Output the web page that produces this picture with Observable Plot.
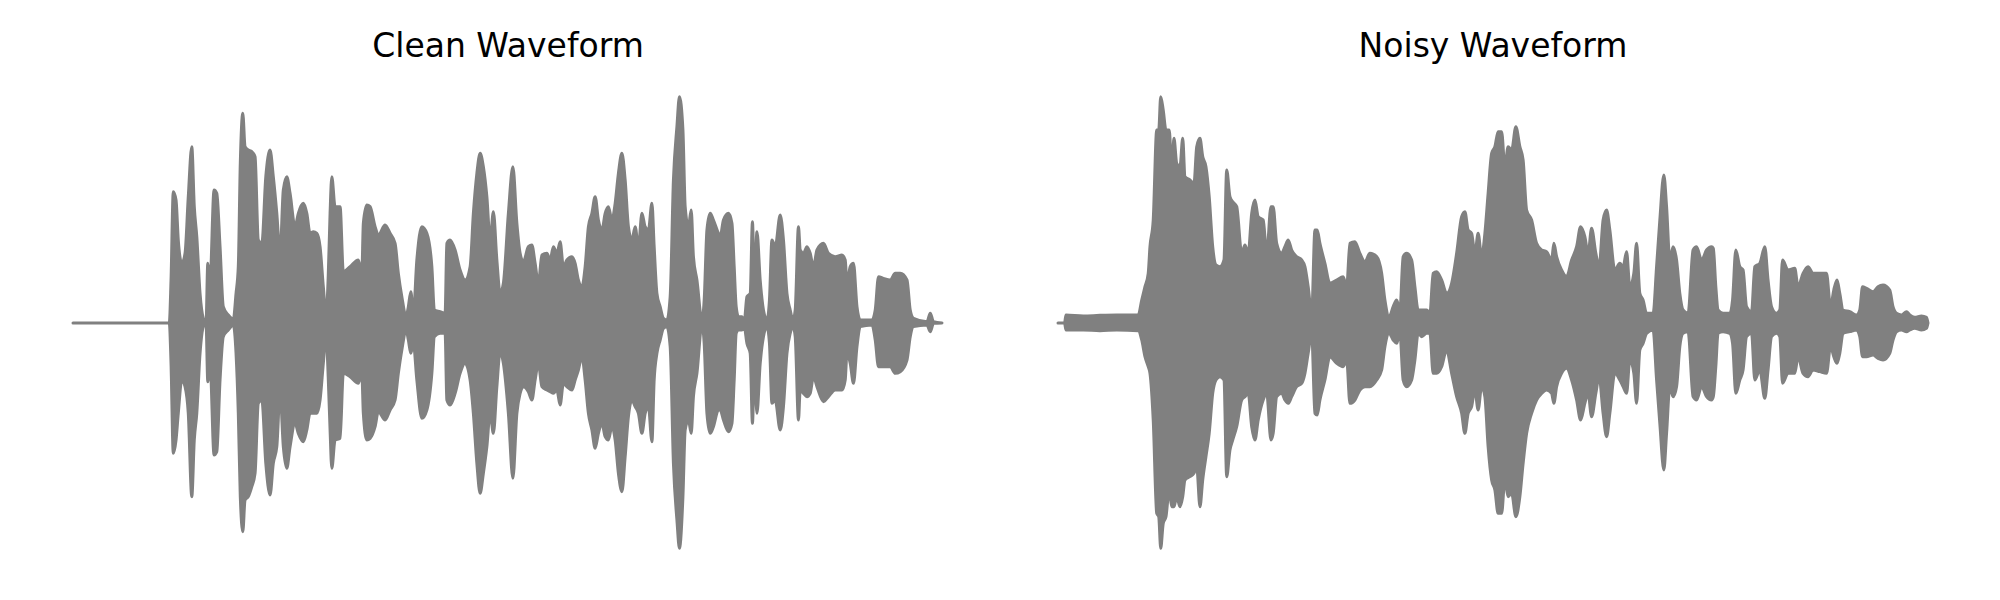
<!DOCTYPE html>
<html><head><meta charset="utf-8">
<script src="https://cdn.jsdelivr.net/npm/d3@7"></script>
<script src="https://cdn.jsdelivr.net/npm/@observablehq/plot@0.6"></script>
<style>
body{margin:0;background:#fff;width:2000px;height:600px;position:relative;overflow:hidden;font-family:"DejaVu Sans",sans-serif;}
.panel{position:absolute;top:0;width:1000px;height:600px;}
.title{position:absolute;top:29px;width:870px;font-size:33px;line-height:33px;color:#000;text-align:center;white-space:nowrap;}
.chart{position:absolute;top:70px;left:0;}
</style></head><body>
<div id="p0" class="panel" style="left:0"></div>
<div id="p1" class="panel" style="left:1000px"></div>
<script>
const titles = ["Clean Waveform", "Noisy Waveform"];

// time in ms, amplitude in int16 sample units (envelope max / min)
const cleanT = [0,385,392,401,412,421,435,448,461,475,485,495,508,521,532,539,548,564,575,588,601,621,641,652,661,669,679,688,701,715,728,741,755,771,788,801,815,828,841,855,868,888,901,921,935,948,961,975,988,1001,1012,1021,1028,1035,1048,1068,1081,1108,1141,1155,1161,1175,1188,1208,1221,1248,1268,1288,1301,1315,1332,1341,1351,1361,1375,1395,1415,1435,1445,1468,1488,1495,1508,1528,1548,1568,1588,1601,1615,1628,1641,1655,1668,1681,1695,1708,1721,1741,1759,1775,1788,1801,1821,1835,1848,1861,1875,1895,1908,1921,1935,1948,1961,1975,1995,2008,2021,2035,2048,2061,2075,2088,2101,2115,2128,2141,2155,2168,2181,2195,2208,2221,2235,2248,2261,2275,2288,2301,2315,2324,2335,2348,2361,2375,2388,2401,2415,2425,2439,2448,2461,2472,2481,2495,2515,2524,2535,2548,2561,2581,2588,2601,2621,2635,2644,2652,2661,2675,2684,2695,2708,2717,2725,2735,2748,2761,2775,2785,2795,2808,2828,2841,2855,2868,2879,2888,2901,2908,2921,2935,2948,2961,2975,3001,3021,3048,3075,3088,3095,3108,3121,3135,3148,3195,3208,3221,3241,3268,3288,3308,3335,3348,3361,3415,3428,3441,3475];
const cleanHi = [0,0,5160,15760,14760,9960,7160,8360,15160,21160,13960,10360,3560,560,0,7160,5160,15960,15560,9160,1960,960,440,3560,6760,19160,25160,21160,20760,20560,19960,9960,9560,17560,20760,17560,13160,8360,15960,17560,15560,11560,13160,14360,13160,10760,10960,10760,9160,4360,960,5960,13160,17560,13960,13960,6160,6760,7560,5960,11960,14160,13960,11560,10560,11760,10760,9560,5960,3160,760,1960,3760,1160,7560,11560,10760,6760,1560,1360,1160,9560,9960,8760,6360,5160,6760,13160,17960,20360,18760,15160,9960,13360,7560,3560,4760,13160,18760,11960,8360,7360,9160,9360,7160,4760,8160,8360,7560,9160,8360,9760,6760,7560,7960,7160,5160,4360,6760,11560,13160,15160,12360,11160,13160,13960,12360,14360,17960,20360,17160,11560,9960,11560,9160,13160,11560,11160,14360,9160,3560,1960,560,360,3160,17160,23560,27160,23160,13960,11560,13560,7960,5160,360,2760,11160,13160,12360,10760,10360,12360,13160,11960,6760,1960,760,760,160,3160,3560,12160,4360,10960,5160,1560,360,2760,9960,9160,12960,9960,3560,1560,360,1560,11560,8760,8360,9160,8360,6760,8760,9560,8360,7960,8160,7560,4760,6760,7160,1960,360,360,1560,5560,5360,5160,5960,5960,5160,1560,560,160,1160,160,0];
const cleanLo = [0,0,-4840,-15640,-14040,-10840,-6840,-7640,-10840,-20840,-14040,-10840,-3640,-440,0,-7040,-4840,-15840,-15440,-6840,-1640,-840,-240,-3640,-10840,-20840,-25040,-21240,-20840,-19640,-18040,-9640,-9240,-16840,-20640,-16840,-14840,-8440,-14840,-17440,-14840,-12040,-13240,-14240,-12840,-10840,-10840,-10840,-9240,-4840,-1440,-6840,-12840,-17440,-14040,-13840,-6040,-6440,-7240,-6040,-10840,-14040,-13840,-12440,-10640,-11640,-10440,-9240,-6040,-3240,-840,-2040,-3640,-2440,-6840,-11440,-10440,-6040,-1640,-1240,-1240,-9240,-9840,-8440,-6040,-4840,-6840,-10840,-16840,-20440,-18040,-14840,-10840,-13240,-7640,-3440,-4840,-10840,-18640,-10840,-8440,-7640,-8240,-9240,-6840,-4840,-7640,-8040,-8240,-8440,-8040,-9840,-7240,-7640,-8040,-6840,-5640,-4040,-6840,-10840,-12840,-15040,-13240,-12040,-13640,-14040,-12440,-14040,-18040,-20240,-16040,-11240,-9240,-10040,-10840,-13240,-10840,-10040,-14240,-6840,-3640,-2040,-640,-440,-2840,-16840,-23640,-27040,-20840,-12840,-11640,-13240,-8840,-6040,-240,-2440,-10840,-13240,-12440,-10440,-10440,-11640,-13040,-12040,-6840,-1240,-840,-840,-440,-2440,-3640,-12040,-5240,-10840,-4840,-1640,-440,-2440,-9640,-9240,-12840,-10040,-3640,-1240,-440,-1640,-11640,-8040,-8440,-8840,-8440,-6440,-7640,-9440,-8840,-8040,-8040,-6840,-3640,-4840,-7240,-2840,-440,-240,-2040,-5240,-5240,-5240,-6040,-5840,-4440,-1640,-440,-240,-1040,-40,0];

const noisyT = [0,26,32,101,168,235,321,335,348,361,368,381,395,403,411,421,432,445,455,464,475,488,499,508,528,544,555,568,579,592,605,619,632,648,664,675,688,699,715,735,748,761,775,788,801,821,835,852,861,875,895,908,921,935,955,975,988,1001,1015,1028,1037,1048,1068,1088,1115,1141,1155,1168,1188,1208,1228,1248,1275,1295,1308,1325,1341,1355,1368,1381,1395,1415,1428,1441,1455,1475,1488,1501,1515,1535,1555,1575,1595,1615,1628,1641,1655,1668,1681,1695,1708,1721,1735,1748,1761,1775,1788,1801,1815,1832,1848,1861,1875,1895,1915,1935,1955,1975,1984,1995,2015,2035,2055,2075,2091,2108,2121,2135,2152,2165,2181,2195,2208,2228,2248,2261,2275,2288,2304,2315,2328,2341,2355,2381,2395,2408,2424,2435,2448,2461,2475,2488,2501,2521,2541,2555,2575,2595,2615,2622,2632,2641,2661,2688,2699,2712,2728,2741,2755,2775,2788,2808,2828,2841,2855,2875,2888,2899,2921,2948,2961,2981,3001,3021,3048,3075,3091,3104,3117,3128,3141,3168,3195,3208,3219,3235,3261,3281,3301,3328,3341,3355,3375,3395,3408,3428,3455,3475,3481];
const noisyHi = [0,0,960,840,920,960,960,2760,4360,5960,9160,12360,23160,23160,27160,25560,23160,23160,18560,22160,19160,18760,22160,17560,17160,16760,21160,22160,19960,18760,15160,9160,6960,6760,7560,18360,15160,14560,13960,8360,9360,8360,13160,14760,12760,12360,8360,13960,13960,9560,8360,9160,9960,8760,7960,7560,6760,4360,1160,11160,11160,9560,7160,4760,5160,5560,4360,9560,9760,8360,7360,8360,7960,5960,2760,760,1960,2760,1560,7960,8360,7560,4360,1560,1560,1560,1160,5960,6160,5160,3560,4760,8360,12760,13360,11160,10760,8360,10760,7960,10760,15560,20360,21160,22960,22960,18760,21160,20760,23560,21160,19560,13560,12360,9560,8760,8560,7560,9560,7960,6360,5560,7560,9160,11560,10360,8360,11360,8360,6760,12360,13560,11160,6360,7160,6760,8560,4360,5960,9560,3560,2760,1160,1160,6760,12360,17760,13960,7560,9160,7560,3560,1560,1160,8760,9160,7560,8760,9160,8960,4360,1560,1160,1160,2760,8760,6760,6360,1960,1360,6760,7160,9160,5160,1960,1160,1560,7560,6360,6560,4360,5960,6760,5960,5960,5960,1960,3960,5160,3560,1560,1360,960,1560,4360,4160,3760,4360,4560,3960,1960,1160,960,1360,960,680,840,680,0];
const noisyLo = [0,0,-840,-840,-920,-840,-920,-2040,-4040,-5240,-6040,-11640,-22840,-23240,-27040,-24040,-23240,-20040,-22040,-22040,-20840,-22040,-20840,-18840,-18440,-18040,-17240,-22040,-18840,-16040,-13240,-8440,-6840,-6440,-6840,-18440,-15240,-14040,-12440,-9240,-8840,-8440,-12440,-14040,-11640,-9240,-8440,-14040,-13240,-8840,-8440,-9240,-9640,-8840,-7640,-7240,-6040,-3640,-1240,-10840,-11040,-9240,-6840,-4040,-4840,-5240,-4440,-9640,-9240,-8040,-7640,-7640,-6840,-5640,-2840,-1240,-2040,-2440,-1240,-6840,-7640,-6840,-4440,-1240,-1640,-1240,-1240,-6040,-6040,-5240,-3240,-6040,-8840,-10840,-13240,-10840,-10040,-8040,-10440,-7640,-8840,-14840,-18840,-20040,-22840,-22840,-18840,-20840,-20440,-23240,-20840,-16840,-13240,-10840,-9240,-8440,-8040,-8440,-9640,-7640,-6040,-5440,-6840,-9240,-11640,-9640,-8440,-11240,-8440,-6440,-10840,-13640,-10840,-6040,-6840,-7640,-8440,-4440,-6040,-9640,-3240,-2440,-1240,-840,-6840,-12040,-17640,-13240,-7640,-8840,-7640,-2840,-1240,-1040,-8840,-9240,-7640,-8840,-9240,-8840,-5240,-1240,-1040,-1240,-2440,-8440,-6840,-5640,-1640,-1240,-6840,-5640,-9040,-5640,-1640,-1240,-1640,-7240,-6040,-6040,-4040,-6040,-6440,-5640,-5840,-6040,-2840,-4040,-4840,-3640,-1240,-1040,-840,-1640,-4040,-4040,-3840,-4240,-4440,-3640,-2040,-1040,-840,-1040,-840,-640,-840,-640,0];

function drawPanel(id, title, T, Hi, Lo, ml, mr) {
  const el = document.getElementById(id);
  const data = T.map((t, i) => ({t, hi: Hi[i], lo: Lo[i]}));
  const tdiv = document.createElement("div");
  tdiv.className = "title";
  tdiv.style.left = ml + "px";
  tdiv.textContent = title;
  el.appendChild(tdiv);
  const chart = Plot.plot({
    width: 1000, height: 530,
    marginLeft: ml, marginRight: mr, marginTop: 28, marginBottom: 52,
    x: {axis: null},
    y: {axis: null, domain: [-27000, 27000]},
    marks: [
      Plot.areaY(data, {x: "t", y1: "lo", y2: "hi", fill: "#808080", stroke: "#808080",
        strokeWidth: 3, strokeLinejoin: "round", curve: "monotone-x"})
    ]
  });
  chart.classList.add("chart");
  chart.style.position = "absolute";
  chart.style.top = "70px";
  chart.style.left = "0px";
  el.appendChild(chart);
}
drawPanel("p0", titles[0], cleanT, cleanHi, cleanLo, 73, 58);
drawPanel("p1", titles[1], noisyT, noisyHi, noisyLo, 58, 72);
</script>
</body></html>
